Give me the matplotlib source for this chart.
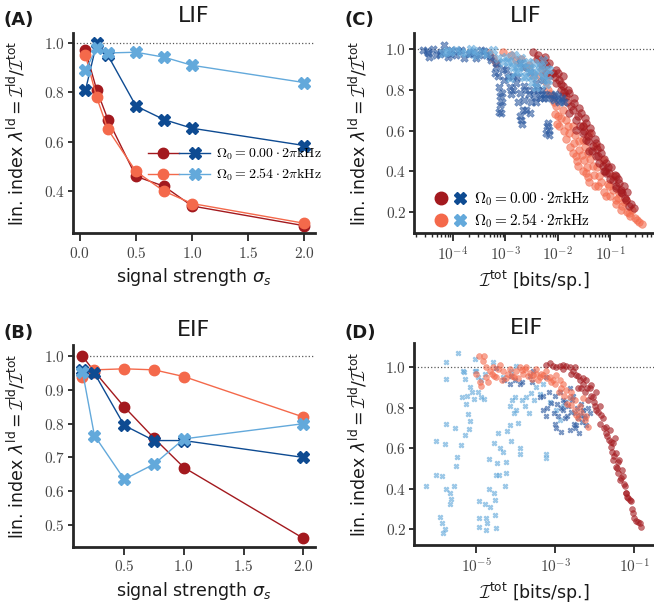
import numpy as np
import matplotlib.pyplot as plt
from matplotlib.lines import Line2D
from matplotlib.legend_handler import HandlerTuple
from matplotlib.ticker import FuncFormatter, FixedLocator, NullLocator, LogLocator

# math in tick labels / legends: computer modern; axis labels: sans + cal I
plt.rcParams['mathtext.fontset'] = 'cm'
plt.rcParams['mathtext.rm'] = 'DejaVu Sans'
plt.rcParams['mathtext.it'] = 'DejaVu Sans:italic'
plt.rcParams['mathtext.bf'] = 'DejaVu Sans:bold'
plt.rcParams['mathtext.sf'] = 'DejaVu Sans'
plt.rcParams['mathtext.cal'] = 'cmsy10'

dark_red = '#a3191e'
light_red = '#f4694b'
dark_blue = '#0e4b92'
light_blue = '#63a9db'

# ---- panel A (LIF) ----
a_sigma = [0.05, 0.15, 0.25, 0.5, 0.75, 1.0, 2.0]
a_red0 = [0.97, 0.81, 0.69, 0.46, 0.42, 0.34, 0.26]
a_red1 = [0.95, 0.78, 0.65, 0.48, 0.40, 0.35, 0.27]
a_blue0 = [0.81, 1.00, 0.95, 0.745, 0.69, 0.655, 0.585]
a_blue1 = [0.89, 0.98, 0.96, 0.963, 0.943, 0.91, 0.84]

# ---- panel B (EIF) ----
b_sigma = [0.15, 0.25, 0.5, 0.75, 1.0, 2.0]
b_red0 = [1.00, 0.955, 0.85, 0.757, 0.67, 0.46]
b_red1 = [0.94, 0.96, 0.963, 0.96, 0.94, 0.82]
b_blue0 = [0.96, 0.95, 0.795, 0.75, 0.75, 0.70]
b_blue1 = [0.955, 0.765, 0.635, 0.68, 0.755, 0.80]

# ---- panel C (LIF scatter), x given as log10(I_tot) ----
c_blue0_logI = [-4.57, -4.48, -4.38, -4.32, -4.22, -4.16, -4.10, -4.03, -3.94, -3.84, -3.78, -3.68,
                -3.56, -3.46, -3.37, -3.27, -3.18, -3.14, -3.12, -3.11, -3.10, -3.09, -3.06, -3.02,
                -2.99, -2.92, -2.86, -2.80, -2.73, -2.70, -2.67, -2.64, -2.61, -2.54, -2.51, -2.45,
                -2.38, -2.32, -2.26, -2.19, -2.16, -2.22, -2.13, -2.07, -2.00, -1.94, -1.88, -2.41,
                -2.54, -2.67, -2.29, -2.73, -4.45, -4.05, -3.62, -3.30,
                -3.20, -3.15, -3.05, -2.95, -2.90, -2.85, -2.78, -2.75, -2.65, -2.60, -2.55, -2.48,
                -2.42, -2.35, -2.30, -2.25, -2.20, -2.10, -2.05, -1.98, -1.92, -2.68, -2.72, -3.07,
                -3.13, -2.21, -2.17, -4.50, -4.25, -3.90, -3.70, -3.50, -3.40]
c_blue0_lam = [0.995, 0.98, 1.0, 0.97, 0.987, 1.02, 0.962, 0.995, 0.97, 0.995, 0.954, 0.98,
               0.954, 0.995, 0.97, 0.946, 0.913, 0.865, 0.815, 0.767, 0.726, 0.685, 0.783, 0.848,
               0.897, 0.815, 0.865, 0.832, 0.783, 0.652, 0.70, 0.75, 0.80, 0.685, 0.742, 0.767,
               0.80, 0.775, 0.758, 0.636, 0.603, 0.587, 0.775, 0.75, 0.767, 0.75, 0.742, 0.832,
               0.889, 0.913, 0.848, 0.93, 0.96, 0.975, 0.985, 0.96,
               0.88, 0.93, 0.90, 0.86, 0.78, 0.80, 0.86, 0.74, 0.82, 0.70, 0.78, 0.80,
               0.74, 0.76, 0.80, 0.78, 0.76, 0.76, 0.78, 0.74, 0.76, 0.63, 0.67, 0.74,
               0.69, 0.62, 0.58, 0.99, 0.975, 0.99, 0.975, 0.97, 0.99]
c_blue1_logI = [-4.19, -4.06, -3.94, -3.75, -3.65, -3.56, -3.43, -3.24, -3.14, -3.05, -2.99, -2.89,
                -2.83, -2.76, -2.70, -2.64, -2.57, -2.51, -2.45, -2.38, -2.32, -2.26, -2.19, -2.29,
                -2.48, -2.60, -2.80, -2.92, -2.41, -2.16,
                -2.95, -2.85, -2.75, -2.68, -2.55, -2.45, -2.35, -2.28, -2.22, -2.20, -2.50, -2.65,
                -3.35, -3.60, -3.85, -4.12]
c_blue1_lam = [0.979, 0.987, 0.995, 0.979, 1.0, 0.97, 0.987, 0.995, 0.954, 0.938, 0.962, 0.93,
               0.97, 0.92, 0.954, 0.913, 0.938, 0.905, 0.93, 0.889, 0.913, 0.873, 0.848, 0.946,
               0.873, 0.865, 0.889, 0.856, 0.815, 0.897,
               0.94, 0.91, 0.89, 0.93, 0.90, 0.87, 0.92, 0.86, 0.83, 0.90, 0.84, 0.86,
               0.975, 0.99, 0.985, 0.99]
c_red0_logI = [-2.47, -2.38, -2.29, -2.22, -2.16, -2.10, -2.03, -1.97, -1.94, -1.91, -1.84, -1.78,
               -1.75, -1.69, -1.62, -1.56, -1.53, -1.46, -1.43, -1.37, -1.34, -1.27, -1.24, -1.18,
               -1.15, -1.08, -1.02, -0.96, -0.89, -0.83, -0.77, -0.70, -0.64, -1.46, -1.65, -1.78,
               -1.53, -1.27, -1.08, -0.89, -1.91, -2.03, -2.22, -1.40, -1.12, -0.80,
               -2.40, -2.30, -2.25, -2.15, -2.05, -2.00, -1.95, -1.88, -1.82, -1.80, -1.72, -1.70,
               -1.65, -1.60, -1.58, -1.50, -1.48, -1.42, -1.38, -1.35, -1.30, -1.25, -1.22, -1.20,
               -1.12, -1.10, -1.05, -1.00, -0.98, -0.92, -0.90, -0.85, -0.80, -0.75, -0.72, -0.68,
               -0.60, -0.55]
c_red0_lam = [0.987, 0.97, 0.946, 0.922, 0.93, 0.88, 0.897, 0.848, 0.80, 0.816, 0.767, 0.783,
              0.718, 0.734, 0.669, 0.685, 0.62, 0.636, 0.571, 0.587, 0.522, 0.538, 0.473, 0.489,
              0.424, 0.44, 0.391, 0.358, 0.326, 0.342, 0.293, 0.26, 0.228, 0.554, 0.604, 0.685,
              0.587, 0.473, 0.391, 0.375, 0.865, 0.832, 0.88, 0.50, 0.40, 0.30,
              0.95, 0.92, 0.96, 0.87, 0.86, 0.88, 0.83, 0.79, 0.74, 0.80, 0.70, 0.76,
              0.65, 0.71, 0.62, 0.60, 0.66, 0.55, 0.61, 0.50, 0.56, 0.51, 0.44, 0.52,
              0.46, 0.40, 0.42, 0.36, 0.42, 0.38, 0.32, 0.36, 0.31, 0.33, 0.27, 0.30,
              0.24, 0.22]
c_red1_logI = [-3.32, -3.24, -3.18, -3.05, -2.80, -2.61, -2.48, -2.35, -2.22, -2.19, -2.10, -2.03,
               -2.00, -1.97, -1.91, -1.84, -1.78, -1.72, -1.69, -1.65, -1.62, -1.59, -1.53, -1.50,
               -1.46, -1.43, -1.40, -1.34, -1.27, -1.24, -1.21, -1.15, -1.08, -1.02, -0.96, -0.89,
               -0.83, -0.77, -0.70, -0.64, -0.58, -0.54, -0.40, -1.40, -1.53, -1.91,
               -2.15, -2.08, -2.05, -2.02, -1.95, -1.88, -1.85, -1.80, -1.76, -1.72, -1.68, -1.64,
               -1.60, -1.55, -1.52, -1.48, -1.45, -1.42, -1.38, -1.32, -1.30, -1.25, -1.18, -1.12,
               -1.05, -1.00, -0.95, -0.90, -0.85, -0.80, -0.75, -0.68, -0.62, -0.50, -0.45, -2.30,
               -2.55, -2.70, -2.90]
c_red1_lam = [0.979, 0.954, 0.93, 0.987, 0.946, 0.913, 0.873, 0.865, 0.84, 0.80, 0.767, 0.718,
              0.669, 0.62, 0.70, 0.652, 0.587, 0.62, 0.538, 0.473, 0.424, 0.505, 0.554, 0.457,
              0.391, 0.489, 0.35, 0.424, 0.522, 0.326, 0.375, 0.456, 0.277, 0.326, 0.375, 0.26,
              0.293, 0.228, 0.26, 0.195, 0.211, 0.17, 0.143, 0.587, 0.62, 0.767,
              0.78, 0.74, 0.68, 0.63, 0.66, 0.60, 0.56, 0.62, 0.52, 0.49, 0.58, 0.45,
              0.55, 0.48, 0.40, 0.52, 0.42, 0.37, 0.46, 0.38, 0.33, 0.42, 0.35, 0.30,
              0.34, 0.28, 0.31, 0.24, 0.27, 0.21, 0.25, 0.20, 0.18, 0.16, 0.15, 0.90,
              0.92, 0.95, 0.97]

# ---- panel D (EIF scatter), x given as log10(I_tot) ----
d_blue1_logI = [-6.27, -6.03, -6.01, -5.93, -5.87, -5.84, -5.80, -5.78, -5.76, -5.76, -5.80, -5.86,
                -5.78, -5.68, -5.63, -5.68, -5.57, -5.55, -5.51, -5.48, -5.46, -5.40, -5.37, -5.35,
                -5.31, -5.30, -5.28, -5.25, -5.23, -5.21, -5.19, -5.17, -5.15, -5.10, -5.07, -5.03,
                -5.00, -4.96, -4.94, -4.94, -4.93, -4.87, -4.81, -4.79, -4.76, -4.75, -4.73, -4.68,
                -4.68, -4.66, -4.58, -4.56, -4.55, -4.54, -4.52, -4.51, -4.49, -4.48, -4.45, -4.43,
                -4.39, -4.32, -4.28, -4.26, -4.24, -4.22, -4.16, -4.14, -4.11, -4.09, -4.05, -4.03,
                -3.99, -3.95, -3.90, -3.89, -3.84, -3.78, -3.73, -3.67, -3.61, -3.55, -3.48, -3.40,
                -3.24, -3.23, -3.31, -4.11, -4.32, -3.99, -3.14, -2.97, -2.80, -2.89, -2.64, -2.30,
                -5.04, -4.96, -4.87, -4.79]
d_blue1_lam = [0.413, 0.633, 0.468, 0.261, 0.228, 0.178, 0.198, 0.72, 0.942, 1.025, 0.62, 0.463,
               0.40, 0.377, 0.349, 0.324, 0.41, 0.70, 0.512, 0.555, 1.07, 0.617, 0.856, 0.983,
               0.978, 0.666, 0.942, 0.82, 0.86, 0.769, 0.693, 0.905, 0.736, 0.876, 0.843, 1.04,
               0.983, 0.88, 0.336, 0.253, 0.207, 0.856, 0.845, 0.324, 0.253, 0.195, 0.228, 0.40,
               0.545, 0.31, 1.025, 0.377, 0.625, 0.27, 0.344, 0.203, 0.468, 0.525, 0.674, 0.468,
               0.60, 0.583, 0.41, 0.531, 0.479, 0.683, 0.807, 0.716, 0.633, 0.84, 0.774, 0.856,
               0.79, 0.724, 0.60, 0.572, 0.84, 0.807, 0.856, 0.774, 0.873, 0.84, 0.905, 0.868,
               0.55, 0.572, 0.92, 0.98, 0.955, 1.005, 0.83, 0.79, 0.807, 0.74, 0.85, 0.79,
               0.98, 0.955, 0.94, 0.97]
d_blue0_logI = [-4.16, -4.03, -3.84, -3.65, -3.38, -3.31, -3.23, -3.10, -3.04, -2.97, -2.89, -2.81,
                -2.76, -2.68, -2.64, -2.57, -2.51, -2.47, -2.40, -2.37, -2.30, -2.26, -2.22, -2.13,
                -2.64, -2.80, -4.49, -4.11, -3.57, -3.23, -2.95, -2.55, -2.35, -3.15,
                -3.30, -3.20, -3.00, -2.92, -2.85, -2.75, -2.70, -2.60, -2.52, -2.45, -2.42, -2.33,
                -2.28, -2.18, -2.50, -2.85, -3.00, -3.60, -3.90, -4.30]
d_blue0_lam = [0.92, 0.94, 0.93, 0.96, 0.856, 0.79, 0.757, 0.823, 0.774, 0.70, 0.88, 0.84,
               0.749, 0.807, 0.90, 0.84, 0.774, 0.716, 0.674, 0.765, 0.79, 0.749, 0.716, 0.774,
               0.69, 0.79, 0.997, 0.96, 0.98, 0.955, 0.82, 0.86, 0.82, 0.88,
               0.86, 0.80, 0.86, 0.76, 0.80, 0.83, 0.76, 0.78, 0.72, 0.80, 0.75, 0.73,
               0.76, 0.80, 0.70, 0.68, 0.72, 0.93, 0.92, 0.94]
d_red1_logI = [-4.94, -4.81, -4.83, -4.92, -4.88, -4.75, -4.66, -4.58, -4.49, -4.41, -4.32, -4.16,
               -3.99, -3.90, -3.82, -3.73, -3.65, -3.57, -3.48, -3.40, -3.31, -3.23, -3.14, -3.06,
               -2.97, -2.81, -2.72, -2.64, -2.59, -2.51, -2.47, -2.38, -2.22, -2.17, -2.30, -2.89,
               -4.75, -5.00, -4.70, -4.55, -4.25, -4.05, -3.85, -3.60, -3.35, -3.10, -2.85,
               -4.60, -4.45, -4.35, -4.20, -4.10, -3.95, -3.78, -3.70, -3.50, -3.45, -3.20, -3.00,
               -2.90, -2.78, -2.70, -2.60, -2.50, -2.42, -2.35, -2.25]
d_red1_lam = [1.058, 1.055, 1.03, 0.93, 0.906, 0.955, 0.98, 1.0, 0.955, 1.01, 0.98, 0.99,
              0.98, 1.0, 0.97, 1.0, 0.975, 0.964, 0.99, 0.955, 0.964, 0.98, 0.955, 0.94,
              0.964, 0.92, 0.89, 0.856, 0.815, 0.84, 0.765, 0.807, 0.757, 0.707, 0.85, 0.94,
              1.0, 0.97, 0.93, 0.96, 0.95, 0.955, 0.985, 0.945, 0.97, 0.93, 0.90,
              0.97, 0.99, 0.94, 0.97, 0.96, 0.95, 0.99, 0.96, 0.97, 0.94, 0.95, 0.92,
              0.88, 0.86, 0.82, 0.88, 0.79, 0.75, 0.78, 0.74]
d_red0_logI = [-3.23, -3.14, -3.06, -2.97, -2.89, -2.81, -2.72, -2.64, -2.55, -2.47, -2.38, -2.30,
               -2.22, -2.13, -2.05, -1.96, -2.00, -1.88, -1.84, -1.79, -1.71, -1.64, -1.58, -1.50,
               -1.46, -1.54, -1.47, -1.41, -1.37, -1.29, -1.24, -1.20, -1.16, -1.08, -1.02, -1.00,
               -0.91, -0.82, -2.30, -2.80, -2.43, -2.26, -2.17, -1.96, -1.62, -1.54, -1.39, -1.30,
               -1.12, -1.71, -2.09,
               -2.60, -2.50, -2.42, -2.35, -2.20, -2.10, -2.02, -1.93, -1.86, -1.76, -1.68, -1.60,
               -1.56, -1.52, -1.44, -1.42, -1.34, -1.27, -1.22, -1.18, -1.05, -0.95, -0.86]
d_red0_lam = [1.013, 1.02, 1.005, 1.0, 1.005, 0.99, 1.005, 1.0, 0.98, 0.964, 0.94, 0.92,
              0.94, 0.898, 0.856, 0.88, 0.807, 0.807, 0.765, 0.75, 0.674, 0.641, 0.608, 0.65,
              0.575, 0.54, 0.509, 0.476, 0.443, 0.46, 0.41, 0.377, 0.352, 0.336, 0.278, 0.253,
              0.236, 0.21, 0.95, 1.013, 0.90, 0.88, 0.84, 0.79, 0.69, 0.625, 0.54, 0.49,
              0.344, 0.707, 0.915,
              0.97, 1.0, 0.96, 0.90, 0.90, 0.86, 0.83, 0.78, 0.72, 0.70, 0.66, 0.63,
              0.58, 0.56, 0.50, 0.53, 0.45, 0.42, 0.38, 0.36, 0.30, 0.24, 0.23]

label0 = r'$\Omega_0 = 0.00 \cdot 2\pi\mathrm{kHz}$'
label1 = r'$\Omega_0 = 2.54 \cdot 2\pi\mathrm{kHz}$'
ylab = r'lin. index $\lambda^{\mathrm{ld}} = \mathcal{I}^{\mathrm{ld}}/\mathcal{I}^{\mathrm{tot}}$'
xlab_info = r'$\mathcal{I}^{\mathrm{tot}}$ [bits/sp.]'
xlab_sig = r'signal strength $\sigma_s$'

spine_col = '#262626'
lin_fmt = FuncFormatter(lambda v, p: f'${v:.1f}$')
log_fmt = FuncFormatter(lambda v, p: f'$10^{{{int(round(np.log10(v)))}}}$')


def style(ax):
    for s in ['top', 'right']:
        ax.spines[s].set_visible(False)
    for s in ['left', 'bottom']:
        ax.spines[s].set_linewidth(2.0)
        ax.spines[s].set_color(spine_col)
    ax.tick_params(axis='x', which='major', length=6, width=1.3, pad=3, labelsize=11,
                   color=spine_col, labelcolor='#444444')
    ax.tick_params(axis='x', which='minor', length=3, width=1.0, color=spine_col)
    ax.tick_params(axis='y', which='major', length=3.5, width=1.3, pad=2, labelsize=11,
                   color=spine_col, labelcolor='#444444')
    ax.axhline(1.0, ls=':', lw=0.9, color='0.35', zorder=0)
    ax.yaxis.set_major_formatter(lin_fmt)
    ax.set_ylabel(ylab, fontsize=12.5, math_fontfamily='custom', color='#1a1a1a')
    ax.yaxis.set_label_coords(-0.185, 0.5)


fig = plt.figure(figsize=(6.54, 6.04), dpi=100)
axA = fig.add_axes([0.111, 0.614, 0.3705, 0.331])
axB = fig.add_axes([0.111, 0.0944, 0.3705, 0.334])
axC = fig.add_axes([0.633, 0.614, 0.367, 0.331])
axD = fig.add_axes([0.633, 0.0977, 0.367, 0.334])

# A
style(axA)
lr0, = axA.plot(a_sigma, a_red0, '-o', color=dark_red, ms=7.5, lw=1.0)
lr1, = axA.plot(a_sigma, a_red1, '-o', color=light_red, ms=7.5, lw=1.0)
lb0, = axA.plot(a_sigma, a_blue0, '-X', color=dark_blue, ms=8, lw=1.0)
lb1, = axA.plot(a_sigma, a_blue1, '-X', color=light_blue, ms=8, lw=1.0)
axA.set_xlim(-0.065, 2.095)
axA.set_ylim(0.23, 1.04)
axA.xaxis.set_major_locator(FixedLocator([0.0, 0.5, 1.0, 1.5, 2.0]))
axA.yaxis.set_major_locator(FixedLocator([0.4, 0.6, 0.8, 1.0]))
axA.xaxis.set_major_formatter(lin_fmt)
axA.set_xlabel(xlab_sig, fontsize=12.5, math_fontfamily='custom', color='#1a1a1a')
axA.set_title('LIF', fontsize=16, pad=8, color='#1a1a1a')
axA.legend([(lr0, lb0), (lr1, lb1)], [label0, label1],
           handler_map={tuple: HandlerTuple(ndivide=None, pad=0)},
           frameon=False, fontsize=10, handlelength=4.5, handletextpad=0.4,
           labelspacing=0.35, loc='center left', bbox_to_anchor=(0.31, 0.345),
           borderpad=0, borderaxespad=0)

# B
style(axB)
axB.plot(b_sigma, b_red0, '-o', color=dark_red, ms=7.5, lw=1.0)
axB.plot(b_sigma, b_red1, '-o', color=light_red, ms=7.5, lw=1.0)
axB.plot(b_sigma, b_blue0, '-X', color=dark_blue, ms=8, lw=1.0)
axB.plot(b_sigma, b_blue1, '-X', color=light_blue, ms=8, lw=1.0)
axB.set_xlim(0.067, 2.098)
axB.set_ylim(0.434, 1.033)
axB.xaxis.set_major_locator(FixedLocator([0.5, 1.0, 1.5, 2.0]))
axB.yaxis.set_major_locator(FixedLocator([0.5, 0.6, 0.7, 0.8, 0.9, 1.0]))
axB.xaxis.set_major_formatter(lin_fmt)
axB.set_xlabel(xlab_sig, fontsize=12.5, math_fontfamily='custom', color='#1a1a1a')
axB.set_title('EIF', fontsize=16, pad=7, color='#1a1a1a')

# C
style(axC)
axC.set_xscale('log')
sc_kw = dict(alpha=0.6, linewidths=0.5)
axC.scatter(10 ** np.array(c_red1_logI), c_red1_lam, s=30, marker='o', color=light_red, **sc_kw)
axC.scatter(10 ** np.array(c_red0_logI), c_red0_lam, s=30, marker='o', color=dark_red, **sc_kw)
axC.scatter(10 ** np.array(c_blue0_logI), c_blue0_lam, s=30, marker='X', color='#2d5aa0', **sc_kw)
axC.scatter(10 ** np.array(c_blue1_logI), c_blue1_lam, s=40, marker='X', color=light_blue, **sc_kw)
axC.set_xlim(10 ** -4.74, 10 ** -0.17)
axC.set_ylim(0.097, 1.077)
axC.xaxis.set_major_locator(FixedLocator([1e-5, 1e-4, 1e-3, 1e-2, 1e-1, 1.0]))
axC.xaxis.set_minor_locator(LogLocator(base=10, subs=np.arange(2, 10)))
axC.xaxis.set_major_formatter(log_fmt)
axC.yaxis.set_major_locator(FixedLocator([0.2, 0.4, 0.6, 0.8, 1.0]))
axC.set_xlabel(xlab_info, fontsize=12.5, math_fontfamily='custom', color='#1a1a1a')
axC.set_title('LIF', fontsize=16, pad=8, x=0.465, color='#1a1a1a')
hC = [(Line2D([], [], ls='', marker='o', ms=9, color=dark_red),
       Line2D([], [], ls='', marker='X', ms=9, color=dark_blue)),
      (Line2D([], [], ls='', marker='o', ms=9, color=light_red),
       Line2D([], [], ls='', marker='X', ms=9, color=light_blue))]
axC.legend(hC, [label0, label1], handler_map={tuple: HandlerTuple(ndivide=None, pad=0)},
           frameon=False, fontsize=11, handlelength=2.5, handletextpad=0.3,
           labelspacing=0.3, loc='lower left', bbox_to_anchor=(0.06, 0.0),
           borderpad=0, borderaxespad=0.2)

# D
style(axD)
axD.set_xscale('log')
sd_kw = dict(alpha=0.6, linewidths=0.4)
axD.scatter(10 ** np.array(d_blue1_logI), d_blue1_lam, s=14, marker='X', color=light_blue, **sd_kw)
axD.scatter(10 ** np.array(d_blue0_logI), d_blue0_lam, s=14, marker='X', color='#2d5aa0', **sd_kw)
axD.scatter(10 ** np.array(d_red0_logI), d_red0_lam, s=18, marker='o', color=dark_red, **sd_kw)
axD.scatter(10 ** np.array(d_red1_logI), d_red1_lam, s=18, marker='o', color=light_red, **sd_kw)
axD.set_xlim(10 ** -6.58, 10 ** -0.5)
axD.set_ylim(0.12, 1.12)
axD.xaxis.set_major_locator(FixedLocator([1e-7, 1e-5, 1e-3, 1e-1]))
axD.xaxis.set_minor_locator(NullLocator())
axD.xaxis.set_major_formatter(log_fmt)
axD.yaxis.set_major_locator(FixedLocator([0.2, 0.4, 0.6, 0.8, 1.0]))
axD.set_xlabel(xlab_info, fontsize=12.5, math_fontfamily='custom', color='#1a1a1a')
axD.set_title('EIF', fontsize=16, pad=7, x=0.47, color='#1a1a1a')

for lab, y in [('(A)', 1 - 20 / 604), ('(C)', 1 - 20 / 604), ('(B)', 1 - 333 / 604), ('(D)', 1 - 333 / 604)]:
    x = 0.005 if lab in ('(A)', '(B)') else 0.527
    fig.text(x, y, lab, fontsize=13, fontweight='bold', va='center', ha='left', color='#1a1a1a')

fig.savefig('out.png', dpi=100)
